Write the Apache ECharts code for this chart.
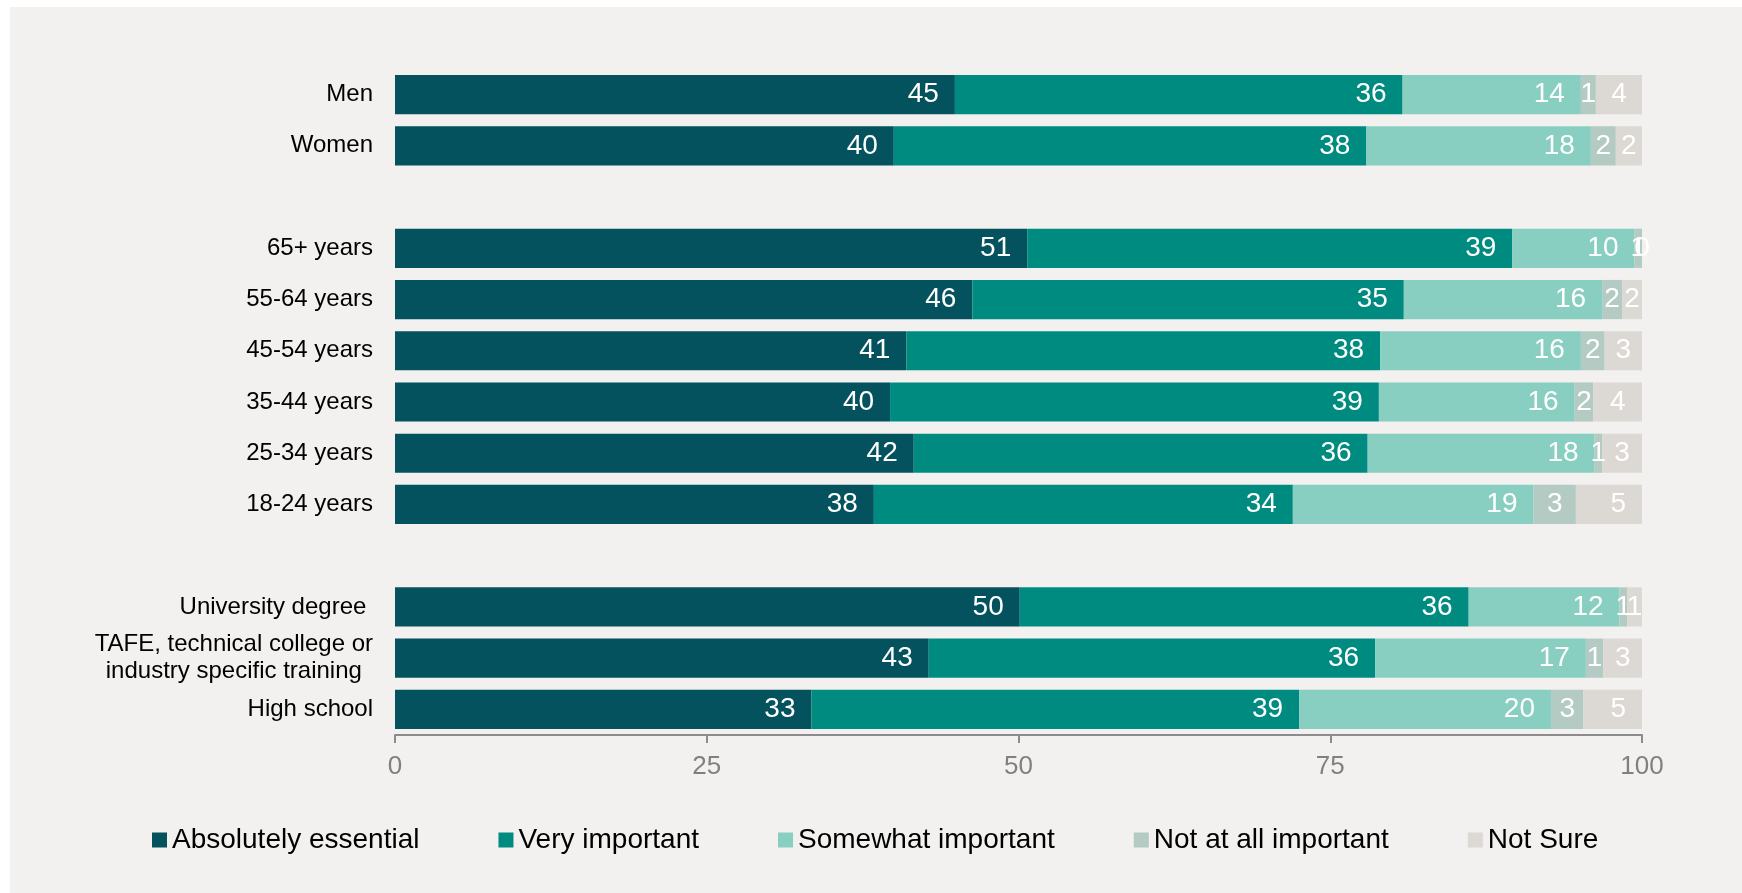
<!DOCTYPE html>
<html>
<head>
<meta charset="utf-8">
<script src="https://cdn.jsdelivr.net/npm/echarts@6/dist/echarts.min.js"></script>
<style>
  html, body { margin: 0; padding: 0; background: #ffffff; }
  #chart { position: absolute; left: 10px; top: 7px; width: 1732px; height: 886px; }
</style>
</head>
<body>
<div id="chart"></div>
<script>
// Row labels, top to bottom; blank entries separate the three groups
const categories = [
  'Men', 'Women', ' ',
  '65+ years', '55-64 years', '45-54 years', '35-44 years', '25-34 years', '18-24 years', '  ',
  'University degree ', 'TAFE, technical college or\nindustry specific training', 'High school'
];

const seriesNames = ['Absolutely essential', 'Very important', 'Somewhat important', 'Not at all important', 'Not Sure'];

// Percentages per response (null = spacer row)
const absolutelyEssential = [44.9, 40.0, null, 50.7, 46.3, 41.0, 39.7, 41.6, 38.4, null, 50.1, 42.8, 33.4];
const veryImportant       = [35.9, 37.9, null, 38.9, 34.6, 38.0, 39.2, 36.4, 33.6, null, 36.0, 35.8, 39.1];
const somewhatImportant   = [14.3, 18.0, null,  9.8, 15.9, 16.1, 15.7, 18.2, 19.3, null, 12.1, 16.9, 20.2];
const notAtAllImportant   = [ 1.2,  2.0, null,  0.6,  1.6,  1.9,  1.5,  0.6,  3.4, null,  0.6,  1.4,  2.6];
const notSure             = [ 3.7,  2.1, null,  0.0,  1.6,  3.0,  3.9,  3.2,  5.3, null,  1.2,  3.1,  4.7];

const xTicks = [0, 25, 50, 75, 100];

const colors = ['#03525d', '#008b80', '#88cfc1', '#b3cbc3', '#dcd8d4'];
const allValues = [absolutelyEssential, veryImportant, somewhatImportant, notAtAllImportant, notSure];

const FONT = 'Liberation Sans, Arial, sans-serif';

const chart = echarts.init(document.getElementById('chart'));

const series = seriesNames.map((name, i) => ({
  name,
  type: 'bar',
  stack: 'total',
  barCategoryGap: '23.5%',
  itemStyle: { color: colors[i] },
  label: {
    show: true,
    color: '#ffffff',
    fontFamily: FONT,
    fontSize: 28,
    distance: 16,
    formatter: p => Math.round(p.value)
  },
  data: allValues[i].map(v => v === null ? null : {
    value: v,
    // narrow segments get a centred label, wider ones sit at the inner end
    label: { position: v < 4 ? 'inside' : 'insideRight' }
  })
}));

chart.setOption({
  backgroundColor: '#f2f1ef',
  animation: false,
  color: colors,
  grid: { left: 385, right: 100, top: 62, bottom: 158, containLabel: false },
  legend: {
    data: seriesNames,
    left: 137,
    top: 814,
    itemWidth: 15,
    itemHeight: 15,
    itemGap: 79,
    icon: 'rect',
    textStyle: {
      color: '#000000',
      fontFamily: FONT,
      fontSize: 28
    }
  },
  xAxis: {
    type: 'value',
    min: xTicks[0],
    max: xTicks[xTicks.length - 1],
    interval: 25,
    splitLine: { show: false },
    axisLine: { show: true, lineStyle: { color: '#8c8c8c', width: 2 } },
    axisTick: { show: true, length: 8, lineStyle: { color: '#8c8c8c', width: 2 } },
    axisLabel: {
      color: '#808080',
      fontFamily: FONT,
      fontSize: 26,
      margin: 19
    }
  },
  yAxis: {
    type: 'category',
    inverse: true,
    data: categories,
    axisLine: { show: false },
    axisTick: { show: false },
    axisLabel: {
      margin: 22,
      align: 'right',
      // each line centred within the label block
      formatter: v => v.split('\n').map(s => '{c|' + s + '}').join('\n'),
      rich: {
        c: {
          align: 'center',
          color: '#000000',
          fontFamily: FONT,
          fontSize: 24,
          lineHeight: 27
        }
      }
    }
  },
  series
});
</script>
</body>
</html>
